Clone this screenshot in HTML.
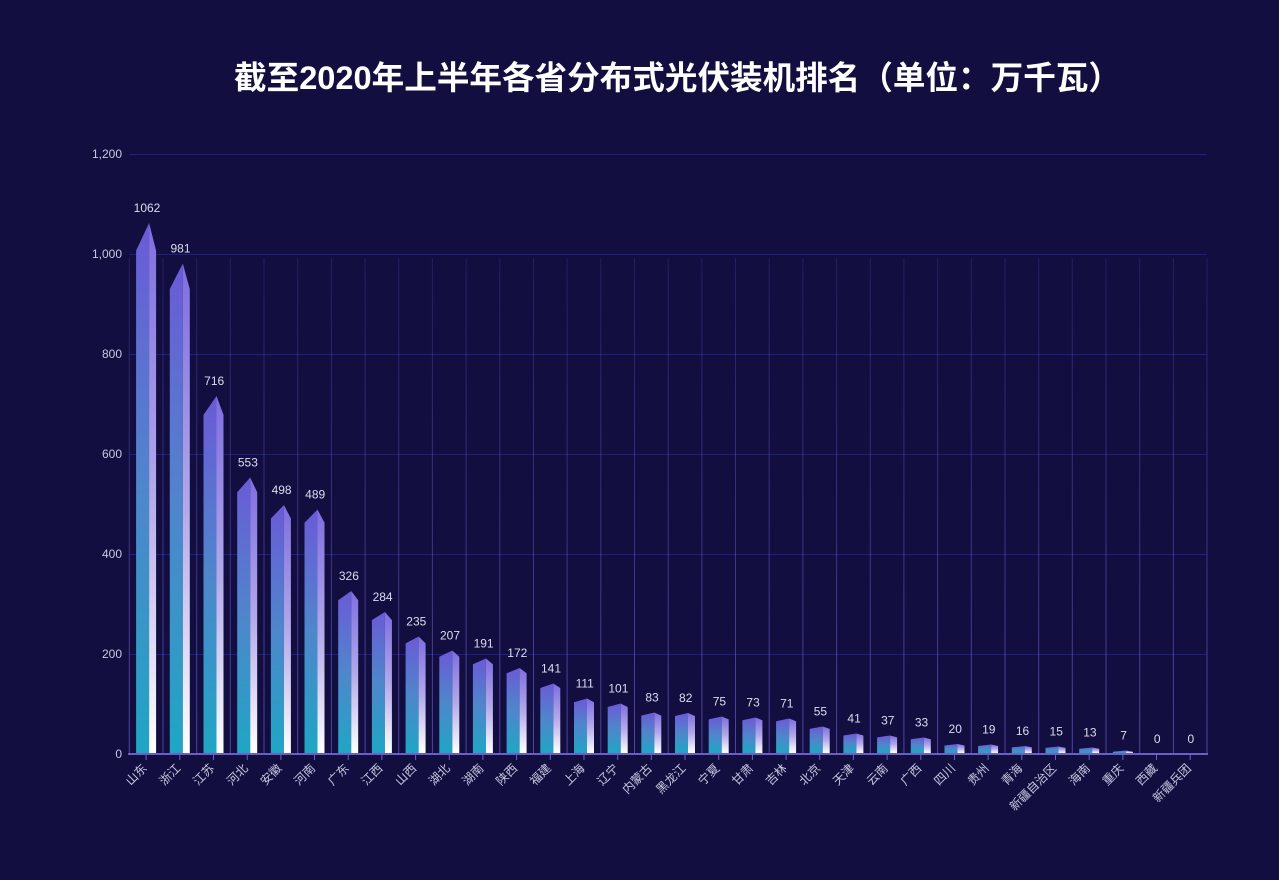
<!DOCTYPE html>
<html><head><meta charset="utf-8">
<style>
html,body{margin:0;padding:0;background:#ffffff;}
svg{display:block;}
.yl{font:12px "Liberation Sans","Noto Sans CJK SC",sans-serif;fill:#c9c6e6;text-anchor:end;}
.vl{font:12px "Liberation Sans","Noto Sans CJK SC",sans-serif;fill:#dcdcf0;text-anchor:middle;}
.xl{font:12px "Liberation Sans","Noto Sans CJK SC",sans-serif;fill:#c8c8e0;text-anchor:end;}
</style></head>
<body>
<svg width="1280" height="888" viewBox="0 0 1280 888" xmlns="http://www.w3.org/2000/svg">
<defs>
<linearGradient id="gl" x1="0" y1="0" x2="0" y2="1">
<stop offset="0" stop-color="#6b5ad6"/><stop offset="0.5" stop-color="#4f86cc"/><stop offset="1" stop-color="#1fa6c4"/>
</linearGradient>
<linearGradient id="gr" x1="0" y1="0" x2="0" y2="1">
<stop offset="0" stop-color="#7e6ee0"/><stop offset="0.5" stop-color="#b2a8ea"/><stop offset="1" stop-color="#ffffff"/>
</linearGradient>
<linearGradient id="gv" gradientUnits="userSpaceOnUse" x1="0" y1="258" x2="0" y2="754">
<stop offset="0" stop-color="#6a5ccf" stop-opacity="0.2"/><stop offset="1" stop-color="#6a5ccf" stop-opacity="0.7"/>
</linearGradient>
</defs>
<rect width="1280" height="888" fill="#ffffff"/>
<rect width="1279" height="880" fill="#120e40"/>
<text x="677.5" y="89" text-anchor="middle" style="font:bold 32.6px 'Liberation Sans','Noto Sans CJK SC',sans-serif;fill:#ffffff;">截至2020年上半年各省分布式光伏装机排名（单位：万千瓦）</text>

<g stroke="#1f1d86" stroke-width="1">
<line x1="129" y1="154.5" x2="1207" y2="154.5"/>
<line x1="129" y1="254.5" x2="1207" y2="254.5"/>
<line x1="129" y1="354.5" x2="1207" y2="354.5"/>
<line x1="129" y1="454.5" x2="1207" y2="454.5"/>
<line x1="129" y1="554.5" x2="1207" y2="554.5"/>
<line x1="129" y1="654.5" x2="1207" y2="654.5"/>
</g>
<text class="yl" x="122" y="158">1,200</text>
<text class="yl" x="122" y="258">1,000</text>
<text class="yl" x="122" y="358">800</text>
<text class="yl" x="122" y="458">600</text>
<text class="yl" x="122" y="558">400</text>
<text class="yl" x="122" y="658">200</text>
<text class="yl" x="122" y="758">0</text>

<g stroke="url(#gv)" stroke-width="1">
<line x1="129.3" y1="258" x2="129.3" y2="753"/>
<line x1="163.0" y1="258" x2="163.0" y2="753"/>
<line x1="196.7" y1="258" x2="196.7" y2="753"/>
<line x1="230.3" y1="258" x2="230.3" y2="753"/>
<line x1="264.0" y1="258" x2="264.0" y2="753"/>
<line x1="297.7" y1="258" x2="297.7" y2="753"/>
<line x1="331.4" y1="258" x2="331.4" y2="753"/>
<line x1="365.1" y1="258" x2="365.1" y2="753"/>
<line x1="398.7" y1="258" x2="398.7" y2="753"/>
<line x1="432.4" y1="258" x2="432.4" y2="753"/>
<line x1="466.1" y1="258" x2="466.1" y2="753"/>
<line x1="499.8" y1="258" x2="499.8" y2="753"/>
<line x1="533.5" y1="258" x2="533.5" y2="753"/>
<line x1="567.1" y1="258" x2="567.1" y2="753"/>
<line x1="600.8" y1="258" x2="600.8" y2="753"/>
<line x1="634.5" y1="258" x2="634.5" y2="753"/>
<line x1="668.2" y1="258" x2="668.2" y2="753"/>
<line x1="701.9" y1="258" x2="701.9" y2="753"/>
<line x1="735.5" y1="258" x2="735.5" y2="753"/>
<line x1="769.2" y1="258" x2="769.2" y2="753"/>
<line x1="802.9" y1="258" x2="802.9" y2="753"/>
<line x1="836.6" y1="258" x2="836.6" y2="753"/>
<line x1="870.3" y1="258" x2="870.3" y2="753"/>
<line x1="903.9" y1="258" x2="903.9" y2="753"/>
<line x1="937.6" y1="258" x2="937.6" y2="753"/>
<line x1="971.3" y1="258" x2="971.3" y2="753"/>
<line x1="1005.0" y1="258" x2="1005.0" y2="753"/>
<line x1="1038.7" y1="258" x2="1038.7" y2="753"/>
<line x1="1072.3" y1="258" x2="1072.3" y2="753"/>
<line x1="1106.0" y1="258" x2="1106.0" y2="753"/>
<line x1="1139.7" y1="258" x2="1139.7" y2="753"/>
<line x1="1173.4" y1="258" x2="1173.4" y2="753"/>
<line x1="1207.0" y1="258" x2="1207.0" y2="753"/>
</g>

<g transform="translate(146.1,0)"><polygon fill="url(#gl)" points="-10,753 -10,250.6 3,223 3,753"/><polygon fill="url(#gr)" points="3,223 10,250.6 10,753 3,753"/></g>
<g transform="translate(179.8,0)"><polygon fill="url(#gl)" points="-10,753 -10,289 3,263.5 3,753"/><polygon fill="url(#gr)" points="3,263.5 10,289 10,753 3,753"/></g>
<g transform="translate(213.5,0)"><polygon fill="url(#gl)" points="-10,753 -10,414.9 3,396 3,753"/><polygon fill="url(#gr)" points="3,396 10,414.9 10,753 3,753"/></g>
<g transform="translate(247.2,0)"><polygon fill="url(#gl)" points="-10,753 -10,492.3 3,477.5 3,753"/><polygon fill="url(#gr)" points="3,477.5 10,492.3 10,753 3,753"/></g>
<g transform="translate(280.9,0)"><polygon fill="url(#gl)" points="-10,753 -10,518.5 3,505 3,753"/><polygon fill="url(#gr)" points="3,505 10,518.5 10,753 3,753"/></g>
<g transform="translate(314.5,0)"><polygon fill="url(#gl)" points="-10,753 -10,522.7 3,509.5 3,753"/><polygon fill="url(#gr)" points="3,509.5 10,522.7 10,753 3,753"/></g>
<g transform="translate(348.2,0)"><polygon fill="url(#gl)" points="-10,753 -10,600.2 3,591 3,753"/><polygon fill="url(#gr)" points="3,591 10,600.2 10,753 3,753"/></g>
<g transform="translate(381.9,0)"><polygon fill="url(#gl)" points="-10,753 -10,620.1 3,612 3,753"/><polygon fill="url(#gr)" points="3,612 10,620.1 10,753 3,753"/></g>
<g transform="translate(415.6,0)"><polygon fill="url(#gl)" points="-10,753 -10,643.4 3,636.5 3,753"/><polygon fill="url(#gr)" points="3,636.5 10,643.4 10,753 3,753"/></g>
<g transform="translate(449.3,0)"><polygon fill="url(#gl)" points="-10,753 -10,656.7 3,650.5 3,753"/><polygon fill="url(#gr)" points="3,650.5 10,656.7 10,753 3,753"/></g>
<g transform="translate(482.9,0)"><polygon fill="url(#gl)" points="-10,753 -10,664.3 3,658.5 3,753"/><polygon fill="url(#gr)" points="3,658.5 10,664.3 10,753 3,753"/></g>
<g transform="translate(516.6,0)"><polygon fill="url(#gl)" points="-10,753 -10,673.3 3,668 3,753"/><polygon fill="url(#gr)" points="3,668 10,673.3 10,753 3,753"/></g>
<g transform="translate(550.3,0)"><polygon fill="url(#gl)" points="-10,753 -10,688 3,683.5 3,753"/><polygon fill="url(#gr)" points="3,683.5 10,688 10,753 3,753"/></g>
<g transform="translate(584.0,0)"><polygon fill="url(#gl)" points="-10,753 -10,702.3 3,698.5 3,753"/><polygon fill="url(#gr)" points="3,698.5 10,702.3 10,753 3,753"/></g>
<g transform="translate(617.7,0)"><polygon fill="url(#gl)" points="-10,753 -10,707 3,703.5 3,753"/><polygon fill="url(#gr)" points="3,703.5 10,707 10,753 3,753"/></g>
<g transform="translate(651.3,0)"><polygon fill="url(#gl)" points="-10,753 -10,715.6 3,712.5 3,753"/><polygon fill="url(#gr)" points="3,712.5 10,715.6 10,753 3,753"/></g>
<g transform="translate(685.0,0)"><polygon fill="url(#gl)" points="-10,753 -10,716 3,713 3,753"/><polygon fill="url(#gr)" points="3,713 10,716 10,753 3,753"/></g>
<g transform="translate(718.7,0)"><polygon fill="url(#gl)" points="-10,753 -10,719.4 3,716.5 3,753"/><polygon fill="url(#gr)" points="3,716.5 10,719.4 10,753 3,753"/></g>
<g transform="translate(752.4,0)"><polygon fill="url(#gl)" points="-10,753 -10,720.3 3,717.5 3,753"/><polygon fill="url(#gr)" points="3,717.5 10,720.3 10,753 3,753"/></g>
<g transform="translate(786.1,0)"><polygon fill="url(#gl)" points="-10,753 -10,721.3 3,718.5 3,753"/><polygon fill="url(#gr)" points="3,718.5 10,721.3 10,753 3,753"/></g>
<g transform="translate(819.7,0)"><polygon fill="url(#gl)" points="-10,753 -10,728.9 3,726.5 3,753"/><polygon fill="url(#gr)" points="3,726.5 10,728.9 10,753 3,753"/></g>
<g transform="translate(853.4,0)"><polygon fill="url(#gl)" points="-10,753 -10,735.5 3,733.5 3,753"/><polygon fill="url(#gr)" points="3,733.5 10,735.5 10,753 3,753"/></g>
<g transform="translate(887.1,0)"><polygon fill="url(#gl)" points="-10,753 -10,737.4 3,735.5 3,753"/><polygon fill="url(#gr)" points="3,735.5 10,737.4 10,753 3,753"/></g>
<g transform="translate(920.8,0)"><polygon fill="url(#gl)" points="-10,753 -10,739.3 3,737.5 3,753"/><polygon fill="url(#gr)" points="3,737.5 10,739.3 10,753 3,753"/></g>
<g transform="translate(954.5,0)"><polygon fill="url(#gl)" points="-10,753 -10,745.5 3,744 3,753"/><polygon fill="url(#gr)" points="3,744 10,745.5 10,753 3,753"/></g>
<g transform="translate(988.1,0)"><polygon fill="url(#gl)" points="-10,753 -10,746 3,744.5 3,753"/><polygon fill="url(#gr)" points="3,744.5 10,746 10,753 3,753"/></g>
<g transform="translate(1021.8,0)"><polygon fill="url(#gl)" points="-10,753 -10,747.4 3,746 3,753"/><polygon fill="url(#gr)" points="3,746 10,747.4 10,753 3,753"/></g>
<g transform="translate(1055.5,0)"><polygon fill="url(#gl)" points="-10,753 -10,747.9 3,746.5 3,753"/><polygon fill="url(#gr)" points="3,746.5 10,747.9 10,753 3,753"/></g>
<g transform="translate(1089.2,0)"><polygon fill="url(#gl)" points="-10,753 -10,748.8 3,747.5 3,753"/><polygon fill="url(#gr)" points="3,747.5 10,748.8 10,753 3,753"/></g>
<g transform="translate(1122.9,0)"><polygon fill="url(#gl)" points="-10,753 -10,751.7 3,750.5 3,753"/><polygon fill="url(#gr)" points="3,750.5 10,751.7 10,753 3,753"/></g>

<line x1="128" y1="754" x2="1208" y2="754" stroke="#6a5ec8" stroke-width="2"/>
<g stroke="#6a5ec8" stroke-width="1">
<line x1="146.1" y1="755" x2="146.1" y2="760"/><line x1="179.8" y1="755" x2="179.8" y2="760"/><line x1="213.5" y1="755" x2="213.5" y2="760"/><line x1="247.2" y1="755" x2="247.2" y2="760"/>
<line x1="280.9" y1="755" x2="280.9" y2="760"/><line x1="314.5" y1="755" x2="314.5" y2="760"/><line x1="348.2" y1="755" x2="348.2" y2="760"/><line x1="381.9" y1="755" x2="381.9" y2="760"/>
<line x1="415.6" y1="755" x2="415.6" y2="760"/><line x1="449.3" y1="755" x2="449.3" y2="760"/><line x1="482.9" y1="755" x2="482.9" y2="760"/><line x1="516.6" y1="755" x2="516.6" y2="760"/>
<line x1="550.3" y1="755" x2="550.3" y2="760"/><line x1="584.0" y1="755" x2="584.0" y2="760"/><line x1="617.7" y1="755" x2="617.7" y2="760"/><line x1="651.3" y1="755" x2="651.3" y2="760"/>
<line x1="685.0" y1="755" x2="685.0" y2="760"/><line x1="718.7" y1="755" x2="718.7" y2="760"/><line x1="752.4" y1="755" x2="752.4" y2="760"/><line x1="786.1" y1="755" x2="786.1" y2="760"/>
<line x1="819.7" y1="755" x2="819.7" y2="760"/><line x1="853.4" y1="755" x2="853.4" y2="760"/><line x1="887.1" y1="755" x2="887.1" y2="760"/><line x1="920.8" y1="755" x2="920.8" y2="760"/>
<line x1="954.5" y1="755" x2="954.5" y2="760"/><line x1="988.1" y1="755" x2="988.1" y2="760"/><line x1="1021.8" y1="755" x2="1021.8" y2="760"/><line x1="1055.5" y1="755" x2="1055.5" y2="760"/>
<line x1="1089.2" y1="755" x2="1089.2" y2="760"/><line x1="1122.9" y1="755" x2="1122.9" y2="760"/><line x1="1156.5" y1="755" x2="1156.5" y2="760"/><line x1="1190.2" y1="755" x2="1190.2" y2="760"/>
</g>

<text class="vl" x="147" y="212">1062</text>
<text class="vl" x="180.5" y="252.5">981</text>
<text class="vl" x="214.2" y="385">716</text>
<text class="vl" x="247.9" y="466.5">553</text>
<text class="vl" x="281.6" y="494">498</text>
<text class="vl" x="315.2" y="498.5">489</text>
<text class="vl" x="348.9" y="580">326</text>
<text class="vl" x="382.6" y="601">284</text>
<text class="vl" x="416.3" y="625.5">235</text>
<text class="vl" x="450" y="639.5">207</text>
<text class="vl" x="483.6" y="647.5">191</text>
<text class="vl" x="517.3" y="657">172</text>
<text class="vl" x="551" y="672.5">141</text>
<text class="vl" x="584.7" y="687.5">111</text>
<text class="vl" x="618.4" y="692.5">101</text>
<text class="vl" x="652" y="701.5">83</text>
<text class="vl" x="685.7" y="702">82</text>
<text class="vl" x="719.4" y="705.5">75</text>
<text class="vl" x="753.1" y="706.5">73</text>
<text class="vl" x="786.8" y="707.5">71</text>
<text class="vl" x="820.4" y="715.5">55</text>
<text class="vl" x="854.1" y="722.5">41</text>
<text class="vl" x="887.8" y="724.5">37</text>
<text class="vl" x="921.5" y="726.5">33</text>
<text class="vl" x="955.2" y="733">20</text>
<text class="vl" x="988.8" y="733.5">19</text>
<text class="vl" x="1022.5" y="735">16</text>
<text class="vl" x="1056.2" y="735.5">15</text>
<text class="vl" x="1089.9" y="736.5">13</text>
<text class="vl" x="1123.6" y="739.5">7</text>
<text class="vl" x="1157.2" y="743">0</text>
<text class="vl" x="1190.9" y="743">0</text>

<text class="xl" transform="translate(147.6,769) rotate(-45)">山东</text>
<text class="xl" transform="translate(181.3,769) rotate(-45)">浙江</text>
<text class="xl" transform="translate(215,769) rotate(-45)">江苏</text>
<text class="xl" transform="translate(248.7,769) rotate(-45)">河北</text>
<text class="xl" transform="translate(282.4,769) rotate(-45)">安徽</text>
<text class="xl" transform="translate(316,769) rotate(-45)">河南</text>
<text class="xl" transform="translate(349.7,769) rotate(-45)">广东</text>
<text class="xl" transform="translate(383.4,769) rotate(-45)">江西</text>
<text class="xl" transform="translate(417.1,769) rotate(-45)">山西</text>
<text class="xl" transform="translate(450.8,769) rotate(-45)">湖北</text>
<text class="xl" transform="translate(484.4,769) rotate(-45)">湖南</text>
<text class="xl" transform="translate(518.1,769) rotate(-45)">陕西</text>
<text class="xl" transform="translate(551.8,769) rotate(-45)">福建</text>
<text class="xl" transform="translate(585.5,769) rotate(-45)">上海</text>
<text class="xl" transform="translate(619.2,769) rotate(-45)">辽宁</text>
<text class="xl" transform="translate(652.8,769) rotate(-45)">内蒙古</text>
<text class="xl" transform="translate(686.5,769) rotate(-45)">黑龙江</text>
<text class="xl" transform="translate(720.2,769) rotate(-45)">宁夏</text>
<text class="xl" transform="translate(753.9,769) rotate(-45)">甘肃</text>
<text class="xl" transform="translate(787.6,769) rotate(-45)">吉林</text>
<text class="xl" transform="translate(821.2,769) rotate(-45)">北京</text>
<text class="xl" transform="translate(854.9,769) rotate(-45)">天津</text>
<text class="xl" transform="translate(888.6,769) rotate(-45)">云南</text>
<text class="xl" transform="translate(922.3,769) rotate(-45)">广西</text>
<text class="xl" transform="translate(956,769) rotate(-45)">四川</text>
<text class="xl" transform="translate(989.6,769) rotate(-45)">贵州</text>
<text class="xl" transform="translate(1023.3,769) rotate(-45)">青海</text>
<text class="xl" transform="translate(1057,769) rotate(-45)">新疆自治区</text>
<text class="xl" transform="translate(1090.7,769) rotate(-45)">海南</text>
<text class="xl" transform="translate(1124.4,769) rotate(-45)">重庆</text>
<text class="xl" transform="translate(1158,769) rotate(-45)">西藏</text>
<text class="xl" transform="translate(1191.7,769) rotate(-45)">新疆兵团</text>
</svg>
</body></html>
